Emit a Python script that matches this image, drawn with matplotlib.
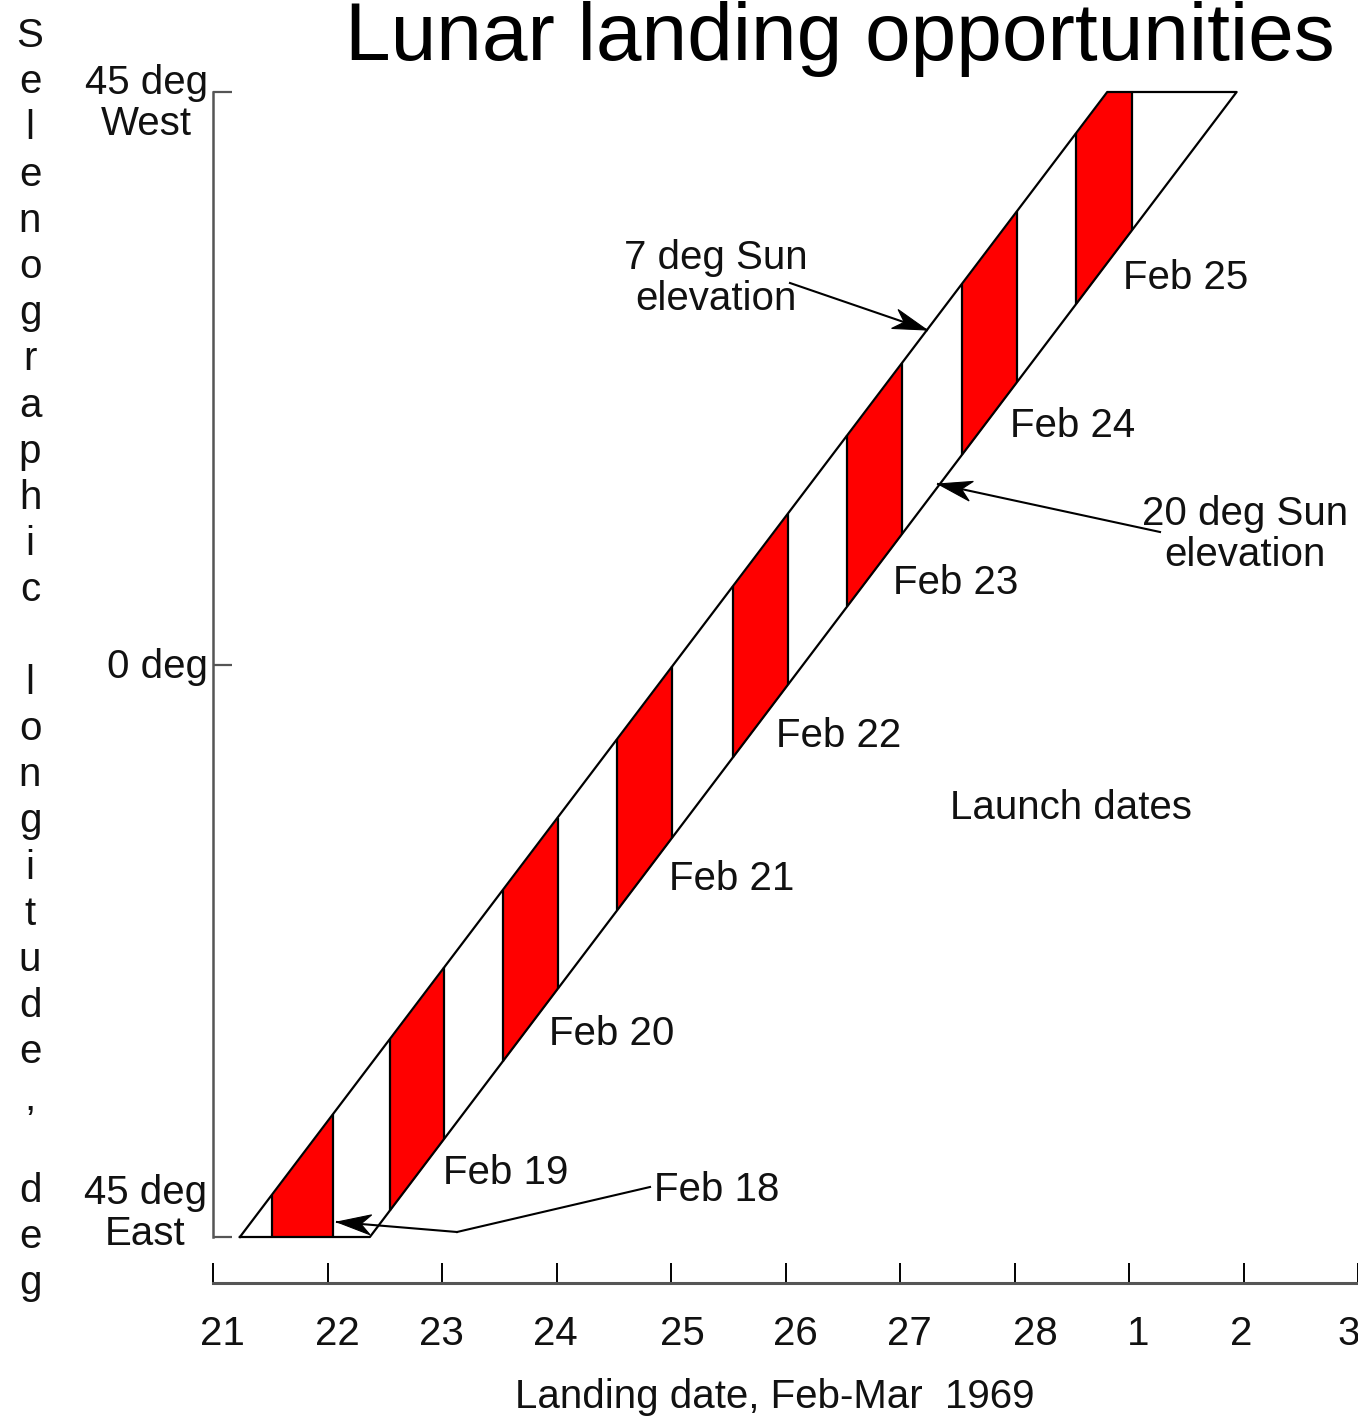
import matplotlib
matplotlib.use("Agg")
import numpy as np
import matplotlib.pyplot as plt
from matplotlib.patches import Polygon
from matplotlib.transforms import offset_copy

W, H = 1358, 1418
plt.rcParams["font.family"] = ["Liberation Sans", "DejaVu Sans"]

# ── Data ──────────────────────────────────────────────────────────────────────
# landing date axis: day of Feb 1969 (29 = Mar 1, 30 = Mar 2, 31 = Mar 3)
days       = [21, 22, 23, 24, 25, 26, 27, 28, 29, 30, 31]
day_labels = ["21", "22", "23", "24", "25", "26", "27", "28", "1", "2", "3"]

# selenographic longitude limits (east negative, west positive)
lon_ends    = [-45, 45]
sun7_dates  = [21.235, 28.81]    # 7 deg Sun elevation line
sun20_dates = [22.37, 29.94]     # 20 deg Sun elevation line

# landing windows for each launch date
launch_names = ["Feb 18", "Feb 19", "Feb 20", "Feb 21", "Feb 22", "Feb 23", "Feb 24", "Feb 25"]
win_start    = [21.515, 22.545, 23.53, 24.53, 25.54, 26.54, 27.54, 28.54]
win_end      = [22.05, 23.02, 24.01, 25.01, 26.02, 27.02, 28.02, 29.03]

ylabel = "Selenographic longitude, deg"

# ── Layout (pixel positions of free text) ─────────────────────────────────────
launch_pos = [(654, 1201), (443, 1184), (549, 1045), (669, 890),
              (776, 747), (893, 594), (1010, 437), (1123, 289)]
tick_dx = [9, 10, -1, -1, 11, 10, 9, 21, 9, -2, -9]


def fx(x):
    return x / W


def fy(y):
    return 1 - y / H


def arrow(x0, y0, x1, y1, head=True):
    # line from (x0, y0) to (x1, y1) in pixels (top-left origin), notched head at the end
    fig.add_artist(plt.Line2D([fx(x0), fx(x1)], [fy(y0), fy(y1)], color="black",
                              lw=1.5, transform=fig.transFigure))
    if not head:
        return
    v = np.array([x1 - x0, y1 - y0], float)
    u = v / np.hypot(*v)
    n = np.array([-u[1], u[0]])
    tip = np.array([x1, y1], float)
    back = tip - 34 * u
    pts = [tip, back + 10 * n, tip - 24 * u, back - 10 * n]
    fig.add_artist(Polygon([(fx(p[0]), fy(p[1])) for p in pts], closed=True,
                           facecolor="black", edgecolor="black", lw=0.8,
                           transform=fig.transFigure))


fig = plt.figure(figsize=(W / 100, H / 100), dpi=100)
ax = fig.add_axes([fx(213), fy(1283), 1 - fx(213), (1283 - 92) / H])
ax.set_xlim(21, 31)
ax.set_ylim(-45 - 46 / (1145 / 90), 45)

# band outline
ax.plot([sun7_dates[0], sun7_dates[1], sun20_dates[1], sun20_dates[0], sun7_dates[0]],
        [lon_ends[0], lon_ends[1], lon_ends[1], lon_ends[0], lon_ends[0]],
        color="black", lw=1.6, clip_on=False, zorder=4)

# red landing windows, clipped to the band
for a, b in zip(win_start, win_end):
    d = np.linspace(a, b, 80)
    top = np.interp(d, sun7_dates, lon_ends)
    bot = np.interp(d, sun20_dates, lon_ends)
    ax.fill_between(d, bot, top, color="#ff0000", lw=0, zorder=2, clip_on=False)
    ax.vlines([a, b], [bot[0], bot[-1]], [top[0], top[-1]], color="black",
              lw=1.6, zorder=3, clip_on=False)

# axes styling
for s in ["top", "right"]:
    ax.spines[s].set_visible(False)
ax.spines["left"].set_bounds(-45, 45)
ax.spines["left"].set_color("#555555")
ax.spines["left"].set_linewidth(1.8)
ax.spines["bottom"].set_color("#555555")
ax.spines["bottom"].set_linewidth(2.2)
ax.set_yticks([-45, 0, 45])
ax.set_yticklabels([])
ax.tick_params(axis="y", direction="in", length=14, width=1.6, colors="#555555")
ax.set_xticks(days)
ax.set_xticklabels([])
ax.tick_params(axis="x", direction="in", length=14.5, width=1.4, colors="black")

# x tick labels
xtr = ax.get_xaxis_transform()
for d, lab, dx in zip(days, day_labels, tick_dx):
    tr = offset_copy(xtr, fig=fig, x=dx, y=0, units="dots")
    ax.text(d, -(1345 - 1283) / 1191, lab, transform=tr, ha="center", va="baseline",
            fontsize=29, color="#111111", clip_on=False)

# y tick labels
fig.text(fx(208), fy(135), "45 deg\nWest", ha="right", va="baseline",
         multialignment="center", linespacing=1.1, fontsize=29, color="#111111")
fig.text(fx(208), fy(678), "0 deg", ha="right", va="baseline", fontsize=29, color="#111111")
fig.text(fx(207), fy(1245), "45 deg\nEast", ha="right", va="baseline",
         multialignment="center", linespacing=1.1, fontsize=29, color="#111111")

# stacked vertical y label
for i, ch in enumerate(ylabel):
    if ch != " ":
        fig.text(fx(30), fy(47 + i * 46.2), ch, ha="center", va="baseline",
                 fontsize=29, color="#111111")

# title and x label (nudged just inside the canvas)
fig.text(fx(840), fy(60), "Lunar landing opportunities", ha="center", va="baseline",
         fontsize=59, color="black")
fig.text(fx(775), fy(1408), "Landing date, Feb-Mar  1969", ha="center", va="baseline",
         fontsize=29, color="#111111")

# launch date labels
for name, (px, py) in zip(launch_names, launch_pos):
    fig.text(fx(px), fy(py), name, ha="left", va="baseline", fontsize=29, color="#111111")
fig.text(fx(950), fy(819), "Launch dates", ha="left", va="baseline", fontsize=29,
         color="#111111")

# Sun elevation annotations
fig.text(fx(716), fy(310), "7 deg Sun\nelevation", ha="center", va="baseline",
         multialignment="center", linespacing=1.1, fontsize=29, color="#111111")
fig.text(fx(1245), fy(566), "20 deg Sun\nelevation", ha="center", va="baseline",
         multialignment="center", linespacing=1.1, fontsize=29, color="#111111")

arrow(790, 283, 927, 330)
arrow(1160, 532, 938, 484)
arrow(650, 1187, 457, 1232, head=False)
arrow(457, 1232, 337, 1222)

fig.savefig("out.png", dpi=100)
